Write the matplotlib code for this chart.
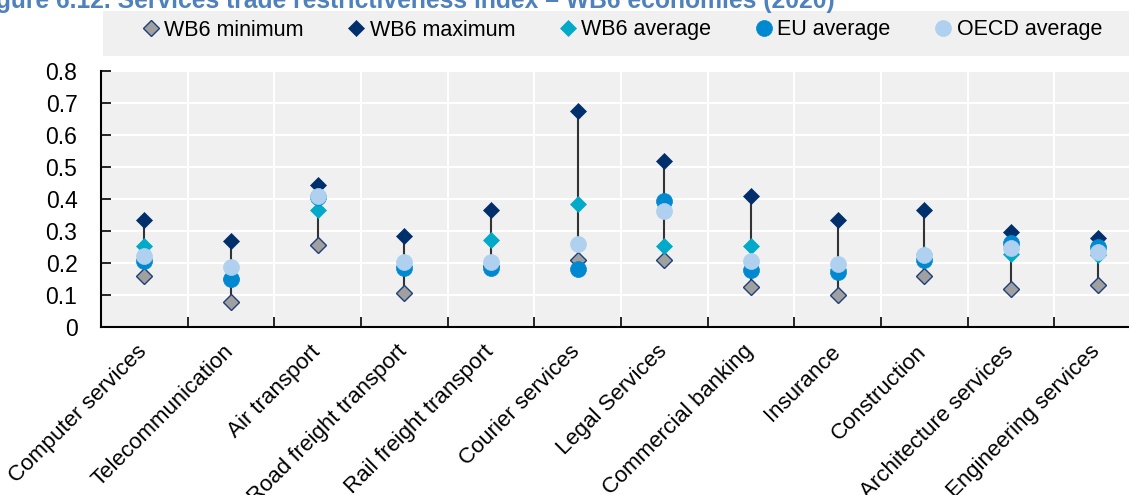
import matplotlib
matplotlib.use("Agg")
import matplotlib.pyplot as plt
from matplotlib.patches import Rectangle
from matplotlib.transforms import ScaledTranslation, blended_transform_factory
import numpy as np

plt.rcParams['font.family'] = ['Liberation Sans', 'DejaVu Sans']

categories = ["Computer services", "Telecommunication", "Air transport", "Road freight transport",
              "Rail freight transport", "Courier services", "Legal Services", "Commercial banking",
              "Insurance", "Construction", "Architecture services", "Engineering services"]
wb6_min = [0.160, 0.079, 0.255, 0.107, 0.190, 0.209, 0.209, 0.124, 0.100, 0.160, 0.119, 0.131]
wb6_max = [0.334, 0.269, 0.443, 0.285, 0.365, 0.675, 0.517, 0.410, 0.334, 0.365, 0.297, 0.277]
wb6_avg = [0.252, 0.150, 0.365, 0.190, 0.271, 0.385, 0.254, 0.254, 0.180, 0.228, 0.228, 0.225]
eu_avg = [0.207, 0.149, 0.405, 0.183, 0.185, 0.181, 0.394, 0.178, 0.173, 0.209, 0.263, 0.251]
oecd_avg = [0.222, 0.186, 0.410, 0.204, 0.204, 0.258, 0.363, 0.207, 0.197, 0.225, 0.246, 0.235]
yticks = [0, 0.1, 0.2, 0.3, 0.4, 0.5, 0.6, 0.7, 0.8]

C_MIN = '#A0A0A0'
C_MIN_EDGE = '#1F3F77'
C_MAX = '#002F6C'
C_AVG = '#00AAC8'
C_EU = '#0089D0'
C_OECD = '#AFD0EE'
BG = '#F0F0F0'

W, H = 1129, 495
fig = plt.figure(figsize=(W / 100, H / 100), dpi=100)
ax = fig.add_axes([101 / W, (H - 327) / H, (1141 - 101) / W, (327 - 70.7) / H])
ax.set_facecolor(BG)

x = np.arange(len(categories))
ax.vlines(x, wb6_min, wb6_max, color='#333333', lw=1.5, zorder=2)
ax.plot(x, wb6_min, 'D', ms=8, mfc=C_MIN, mec=C_MIN_EDGE, mew=1.0, ls='none', zorder=3, label='WB6 minimum')
ax.plot(x, wb6_max, 'D', ms=8.5, mfc=C_MAX, mec=C_MAX, mew=0.5, ls='none', zorder=4, label='WB6 maximum')
ax.plot(x, wb6_avg, 'D', ms=8.5, mfc=C_AVG, mec=C_AVG, mew=0.5, ls='none', zorder=5, label='WB6 average')
ax.plot(x, eu_avg, 'o', ms=11.5, mfc=C_EU, mec=C_EU, mew=0.5, ls='none', zorder=6, label='EU average')
ax.plot(x, oecd_avg, 'o', ms=11.5, mfc=C_OECD, mec=C_OECD, mew=0.5, ls='none', zorder=7, label='OECD average')

ax.set_xlim(-0.5, len(categories) - 0.5)
ax.set_ylim(0, 0.8)
ax.set_yticks(yticks)
ax.set_yticklabels([f"{v:g}" for v in yticks], fontsize=16.5)

# category labels (rotated), placed just below the axis
ax.set_xticks(x)
ax.set_xticklabels([])
lab_tr = blended_transform_factory(ax.transData, ax.transAxes) + \
    ScaledTranslation(-8 / 100, -14 / 100, fig.dpi_scale_trans)
for xi, name in zip(x, categories):
    ax.text(xi, 0, name, transform=lab_tr, rotation=45, ha='right', va='top',
            rotation_mode='anchor', fontsize=16, clip_on=False)

ax.set_xticks(np.arange(len(categories) + 1) - 0.5, minor=True)
ax.tick_params(axis='x', which='major', length=0)
ax.tick_params(axis='x', which='minor', direction='in', length=7, width=1.2, color='black')
ax.tick_params(axis='y', direction='in', length=7, width=1.2, pad=17)
ax.grid(axis='y', color='white', lw=1.5, zorder=0)
ax.grid(axis='x', which='minor', color='white', lw=1.5, zorder=0)
ax.set_axisbelow(True)
for s in ['top', 'right']:
    ax.spines[s].set_visible(False)
for s in ['left', 'bottom']:
    ax.spines[s].set_linewidth(1.5)
    ax.spines[s].set_color('black')

# legend box
fig.patches.append(Rectangle((103 / W, (H - 55.7) / H), (W - 103) / W, 45 / H,
                             transform=fig.transFigure, facecolor=BG, edgecolor='none', zorder=0))
handles, labels = ax.get_legend_handles_labels()
leg = fig.legend(handles, labels, loc='center left', bbox_to_anchor=(140 / W, (H - 30) / H),
                 ncol=5, frameon=False, fontsize=15.5, handletextpad=0.12, columnspacing=1.95,
                 handlelength=1.0, borderaxespad=0, borderpad=0)

fig.text(835 / W, (H - 8) / H,
         "Figure 6.12. Services trade restrictiveness index \u2013 WB6 economies (2020)",
         ha='right', va='baseline', fontsize=17.75, fontweight='bold', color='#4F81BD')

fig.savefig('out.png', dpi=100)
